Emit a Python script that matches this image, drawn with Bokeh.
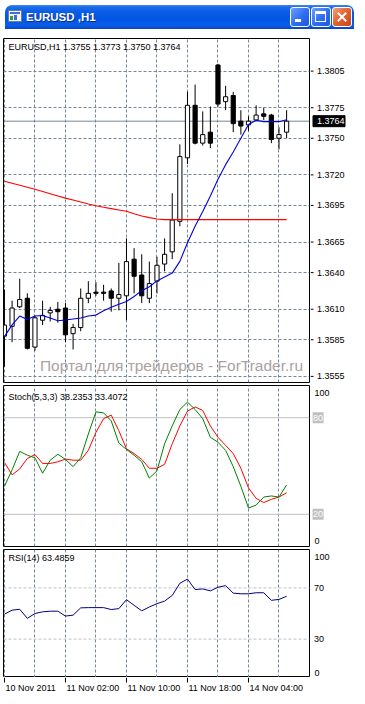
from bokeh.plotting import figure
from bokeh.layouts import column, row
from bokeh.models import Range1d, FixedTicker, Span, Label, Div
from bokeh.core.properties import value
from bokeh.embed import file_html
from bokeh.resources import INLINE

# ---------------- data (EURUSD H1) ----------------
opens = [1.3588, 1.3596, 1.3612, 1.3619, 1.3579, 1.3601, 1.3607, 1.3610, 1.3611, 1.3590,
         1.3595, 1.3619, 1.3624, 1.3624, 1.3625, 1.3619, 1.3621, 1.3651, 1.3638, 1.3619,
         1.3633, 1.3647, 1.3657, 1.3682, 1.3734, 1.3777, 1.3746, 1.3755, 1.3810, 1.3780,
         1.3785, 1.3764, 1.3761, 1.3765, 1.3770, 1.3769, 1.3750, 1.3755]
highs = [1.3626, 1.3617, 1.3635, 1.3623, 1.3605, 1.3617, 1.3612, 1.3616, 1.3615, 1.3598,
         1.3627, 1.3633, 1.3632, 1.3630, 1.3627, 1.3648, 1.3668, 1.3660, 1.3655, 1.3649,
         1.3653, 1.3668, 1.3705, 1.3745, 1.3788, 1.3794, 1.3772, 1.3776, 1.3811, 1.3793,
         1.3788, 1.3773, 1.3768, 1.3777, 1.3775, 1.3770, 1.3759, 1.3773]
lows = [1.3563, 1.3583, 1.3611, 1.3577, 1.3576, 1.3597, 1.3600, 1.3599, 1.3583, 1.3577,
        1.3592, 1.3615, 1.3621, 1.3617, 1.3608, 1.3609, 1.3601, 1.3623, 1.3615, 1.3615,
        1.3623, 1.3641, 1.3651, 1.3678, 1.3729, 1.3745, 1.3744, 1.3742, 1.3776, 1.3773,
        1.3755, 1.3753, 1.3756, 1.3764, 1.3765, 1.3746, 1.3741, 1.3750]
closes = [1.3597, 1.3611, 1.3618, 1.3578, 1.3603, 1.3605, 1.3609, 1.3608, 1.3589, 1.3595,
          1.3619, 1.3623, 1.3623, 1.3623, 1.3619, 1.3622, 1.3649, 1.3637, 1.3621, 1.3631,
          1.3646, 1.3655, 1.3683, 1.3735, 1.3777, 1.3746, 1.3753, 1.3746, 1.3778, 1.3784,
          1.3762, 1.3760, 1.3764, 1.3769, 1.3768, 1.3749, 1.3753, 1.3764]

ma_blue = [1.35876, 1.35972, 1.36044, 1.36016, 1.36044, 1.36049, 1.36028, 1.36006, 1.36012, 1.36020,
           1.36028, 1.36044, 1.36052, 1.36088, 1.36116, 1.36140, 1.36164, 1.36204, 1.36252, 1.36284,
           1.36332, 1.36364, 1.36396, 1.36492, 1.36644, 1.36780, 1.36900, 1.37028, 1.37164, 1.37284,
           1.37388, 1.37500, 1.37612, 1.37648, 1.37636, 1.37636, 1.37636, 1.37652]
ma_red = [1.37148, 1.37132, 1.37116, 1.37099, 1.37082, 1.37064, 1.37046, 1.37028, 1.37010, 1.36994,
          1.36978, 1.36962, 1.36948, 1.36935, 1.36924, 1.36913, 1.36902, 1.36882, 1.36864, 1.36850,
          1.36839, 1.36834, 1.36834, 1.36834, 1.36834, 1.36834, 1.36834, 1.36834, 1.36834, 1.36834,
          1.36834, 1.36834, 1.36834, 1.36834, 1.36834, 1.36834, 1.36834, 1.36834]

stoch_main = [37.4, 47.6, 59.1, 56.7, 55.1, 45.5, 53.6, 57.3, 54.1, 49.6,
              55.1, 69.9, 83.6, 83.0, 78.0, 64.2, 60.3, 56.7, 52.6, 42.5,
              47.0, 63.8, 74.9, 85.1, 89.7, 85.1, 79.4, 67.8, 64.8, 59.7,
              49.6, 37.4, 23.9, 25.7, 30.7, 31.4, 30.7, 38.2353]
stoch_signal = [52.2, 44.5, 48.2, 54.7, 57.1, 51.6, 51.6, 52.6, 54.3, 53.6,
                53.6, 59.7, 70.9, 79.4, 81.6, 71.9, 60.7, 57.7, 54.1, 48.6,
                48.6, 51.0, 63.8, 74.9, 84.1, 86.7, 84.5, 74.9, 67.8, 62.8,
                57.7, 48.6, 36.4, 29.9, 27.3, 29.3, 30.7, 33.4072]
rsi = [49.5, 52.6, 53.3, 46.2, 50.0, 51.3, 51.8, 51.8, 48.0, 48.7,
       54.4, 54.6, 54.6, 54.6, 53.1, 53.8, 60.8, 56.4, 52.1, 55.1,
       57.7, 59.7, 64.1, 73.6, 76.9, 68.7, 69.2, 67.7, 70.5, 71.8,
       65.9, 65.4, 65.4, 66.2, 66.2, 60.3, 61.0, 63.4859]

price_ticks = [1.3555, 1.3585, 1.3610, 1.3640, 1.3665, 1.3695, 1.3720, 1.3750, 1.3775, 1.3805]
time_tick_idx = [0, 8, 16, 24, 32]
time_tick_labels = ["10 Nov 2011", "11 Nov 02:00", "11 Nov 10:00", "11 Nov 18:00", "14 Nov 04:00"]
stoch_levels = [80, 20]
rsi_levels = [70, 30]

# ---------------- layout constants ----------------
W = 349
LW = 310          # width of the chart part of each panel
RW = W - LW       # width of the right-hand scale strip
FONT = "Liberation Sans"
GRID = "#778899"
idx = list(range(len(opens)))
x_range = Range1d(-0.125, 40.0)
grid_ticks = list(range(0, 40, 4))


def make_fig(height, top, bottom, y_range):
    p = figure(width=LW, height=height, x_range=x_range, y_range=y_range,
               output_backend="svg", toolbar_location=None,
               min_border_left=3, min_border_right=1,
               min_border_top=top, min_border_bottom=bottom,
               x_axis_location=None, y_axis_location=None)
    p.outline_line_color = "black"
    p.outline_line_width = 1
    p.background_fill_color = "white"
    p.border_fill_color = "white"
    p.xgrid.ticker = FixedTicker(ticks=grid_ticks)
    p.xgrid.grid_line_color = GRID
    p.xgrid.grid_line_dash = "3 2"
    p.ygrid.grid_line_color = None
    return p


def make_strip(height, top, bottom, y_range):
    s = figure(width=RW, height=height, x_range=Range1d(0, RW), y_range=y_range,
               output_backend="svg", toolbar_location=None,
               min_border_left=0, min_border_right=0,
               min_border_top=top, min_border_bottom=bottom,
               x_axis_location=None, y_axis_location=None)
    s.outline_line_color = None
    s.background_fill_color = "white"
    s.border_fill_color = "white"
    s.xgrid.visible = False
    s.ygrid.visible = False
    return s


def strip_text(s, x, y, texts, color="black", baseline="middle", y_offset=0, align="left"):
    s.text(x=x, y=y, text=texts, text_font=value(FONT), text_font_size="9px",
           text_color=color, text_align=align, text_baseline=baseline, y_offset=y_offset)


# ---------------- title bar ----------------
title_html = """
<div style="position:relative;width:349px;height:24px;overflow:hidden;border-radius:7px 7px 0 0;
background:linear-gradient(to bottom,#3d8af4 0%,#1a6aea 10%,#0a5ce6 30%,#0056e4 60%,#0a5ee9 85%,#0845c2 100%);
font-family:'Liberation Sans',Arial,sans-serif;">
 <div style="position:absolute;left:3px;top:5px;width:14px;height:12px;background:#f4f4f4;border:1px solid #6b7c99;box-sizing:border-box;"></div>
 <div style="position:absolute;left:5px;top:7px;width:10px;height:2px;background:#3b6fd6;"></div>
 <div style="position:absolute;left:5px;top:11px;width:3px;height:4px;background:#3a9a3a;"></div>
 <div style="position:absolute;left:9px;top:10px;width:3px;height:5px;background:#3b6fd6;"></div>
 <span style="position:absolute;left:21px;top:5px;color:#ffffff;font-weight:bold;font-size:11.5px;line-height:14px;text-shadow:1px 1px 0 #0b2a8c;white-space:pre;">EURUSD ,H1</span>
 <div style="position:absolute;left:285px;top:2px;width:20px;height:20px;border:1px solid #ffffff;border-radius:3px;box-sizing:border-box;background:linear-gradient(135deg,#6da0ff 0%,#2d6cf0 55%,#1f58dc 100%);"></div>
 <div style="position:absolute;left:290px;top:14px;width:6px;height:3px;background:#ffffff;"></div>
 <div style="position:absolute;left:306px;top:2px;width:20px;height:20px;border:1px solid #ffffff;border-radius:3px;box-sizing:border-box;background:linear-gradient(135deg,#6da0ff 0%,#2d6cf0 55%,#1f58dc 100%);"></div>
 <div style="position:absolute;left:310px;top:6px;width:11px;height:11px;border:1px solid #ffffff;border-top:3px solid #ffffff;box-sizing:border-box;"></div>
 <div style="position:absolute;left:327px;top:2px;width:20px;height:20px;border:1px solid #ffffff;border-radius:3px;box-sizing:border-box;background:linear-gradient(135deg,#f0a27f 0%,#e2602f 50%,#c8451a 100%);"></div>
 <div style="position:absolute;left:331px;top:11px;width:12px;height:2px;background:#ffffff;transform:rotate(45deg);"></div>
 <div style="position:absolute;left:331px;top:11px;width:12px;height:2px;background:#ffffff;transform:rotate(-45deg);"></div>
</div>
"""
title_bar = Div(text=title_html, width=W, height=24)

# ---------------- main price panel ----------------
price_range = Range1d(1.35500, 1.38317)
pm = make_fig(350, 4, 2, price_range)
pm.ygrid.ticker = FixedTicker(ticks=price_ticks)
pm.ygrid.grid_line_color = GRID
pm.ygrid.grid_line_dash = "3 2"

pm.add_layout(Span(location=closes[-1], dimension="width", line_color=GRID,
                   line_width=1, level="underlay"))

body_top = [max(o, c) for o, c in zip(opens, closes)]
body_bot = [min(o, c) for o, c in zip(opens, closes)]
body_col = ["white" if c > o else "black" for o, c in zip(opens, closes)]
pm.segment(x0=idx, y0=lows, x1=idx, y1=highs, line_color="black", line_width=1)
pm.vbar(x=idx, width=0.55, top=body_top, bottom=body_bot,
        fill_color=body_col, line_color="black", line_width=1)
pm.line(idx, ma_red, line_color="#ff0000", line_width=1.1)
pm.line(idx, ma_blue, line_color="#0000dd", line_width=1.1)

pm.add_layout(Label(x=5, y=336, x_units="screen", y_units="screen",
                    text="EURUSD,H1  %.4f %.4f %.4f %.4f" % (opens[-1], highs[-1], lows[-1], closes[-1]),
                    text_font=FONT, text_font_size="9px", text_color="black",
                    text_baseline="middle"))
pm.add_layout(Label(x=168, y=17, x_units="screen", y_units="screen",
                    text="Портал для трейдеров - ForTrader.ru",
                    text_font=FONT, text_font_size="15.5px", text_color="#aaa2a2",
                    text_align="center", text_baseline="middle"))

pm_r = make_strip(350, 4, 2, price_range)
pm_r.segment(x0=0, x1=3, y0=price_ticks, y1=price_ticks, line_color="black", line_width=1)
strip_text(pm_r, 6.5, price_ticks, ["%.4f" % t for t in price_ticks])
pm_r.rect(x=18.5, y=[closes[-1]], width=32, height=11, height_units="screen",
          fill_color="black", line_color="black")
strip_text(pm_r, 6.5, [closes[-1]], ["%.4f" % closes[-1]], color="white")

# ---------------- stochastic panel ----------------
stoch_range = Range1d(0, 100)
ps = make_fig(163, 1, 1, stoch_range)
for lv in stoch_levels:
    ps.add_layout(Span(location=lv, dimension="width", line_color="#c0c0c0",
                       line_width=1, level="underlay"))
ps.line(idx, stoch_signal, line_color="#ff0000", line_width=1)
ps.line(idx, stoch_main, line_color="#008000", line_width=1)
ps.add_layout(Label(x=5, y=150, x_units="screen", y_units="screen",
                    text="Stoch(5,3,3) %.4f %.4f" % (stoch_main[-1], stoch_signal[-1]),
                    text_font=FONT, text_font_size="9px", text_color="black",
                    text_baseline="middle"))

ps_r = make_strip(163, 1, 1, stoch_range)
strip_text(ps_r, 4, [100], ["100"], y_offset=7)
strip_text(ps_r, 4, [0], ["0"], y_offset=-6)
ps_r.rect(x=7.6, y=stoch_levels, width=11, height=11, height_units="screen",
          fill_color="#c0c0c0", line_color=None)
strip_text(ps_r, 7.6, stoch_levels, [str(v) for v in stoch_levels], color="white", align="center")

# ---------------- RSI panel ----------------
rsi_range = Range1d(0, 100)
pr = make_fig(130, 2, 0, rsi_range)
for lv in rsi_levels:
    pr.add_layout(Span(location=lv, dimension="width", line_color="#c0c0c0",
                       line_width=1, line_dash="3 2", level="underlay"))
pr.line(idx, rsi, line_color="#000080", line_width=1)
pr.add_layout(Label(x=5, y=120, x_units="screen", y_units="screen",
                    text="RSI(14) %.4f" % rsi[-1],
                    text_font=FONT, text_font_size="9px", text_color="black",
                    text_baseline="middle"))

pr_r = make_strip(130, 2, 0, rsi_range)
strip_text(pr_r, 4, [100], ["100"], y_offset=7)
strip_text(pr_r, 3.5, rsi_levels, [str(v) for v in rsi_levels])
strip_text(pr_r, 4, [0], ["0"], y_offset=-5)

# ---------------- time scale strip ----------------
pt = figure(width=W, height=21, x_range=x_range, y_range=Range1d(0, 21),
            output_backend="svg", toolbar_location=None,
            min_border_left=3, min_border_right=RW + 1, min_border_top=0, min_border_bottom=0,
            x_axis_location=None, y_axis_location=None)
pt.outline_line_color = None
pt.background_fill_color = "white"
pt.border_fill_color = "white"
pt.xgrid.visible = False
pt.ygrid.visible = False
pt.segment(x0=time_tick_idx, x1=time_tick_idx, y0=21, y1=16, line_color="black", line_width=1)
pt.text(x=time_tick_idx, y=11, text=time_tick_labels, text_font=value(FONT),
        text_font_size="9px", text_color="black", text_align="left",
        text_baseline="middle", x_offset=1)

layout = column(title_bar, row(pm, pm_r), row(ps, ps_r), row(pr, pr_r), pt, spacing=0)
open("out.html", "w").write(file_html(layout, INLINE))
